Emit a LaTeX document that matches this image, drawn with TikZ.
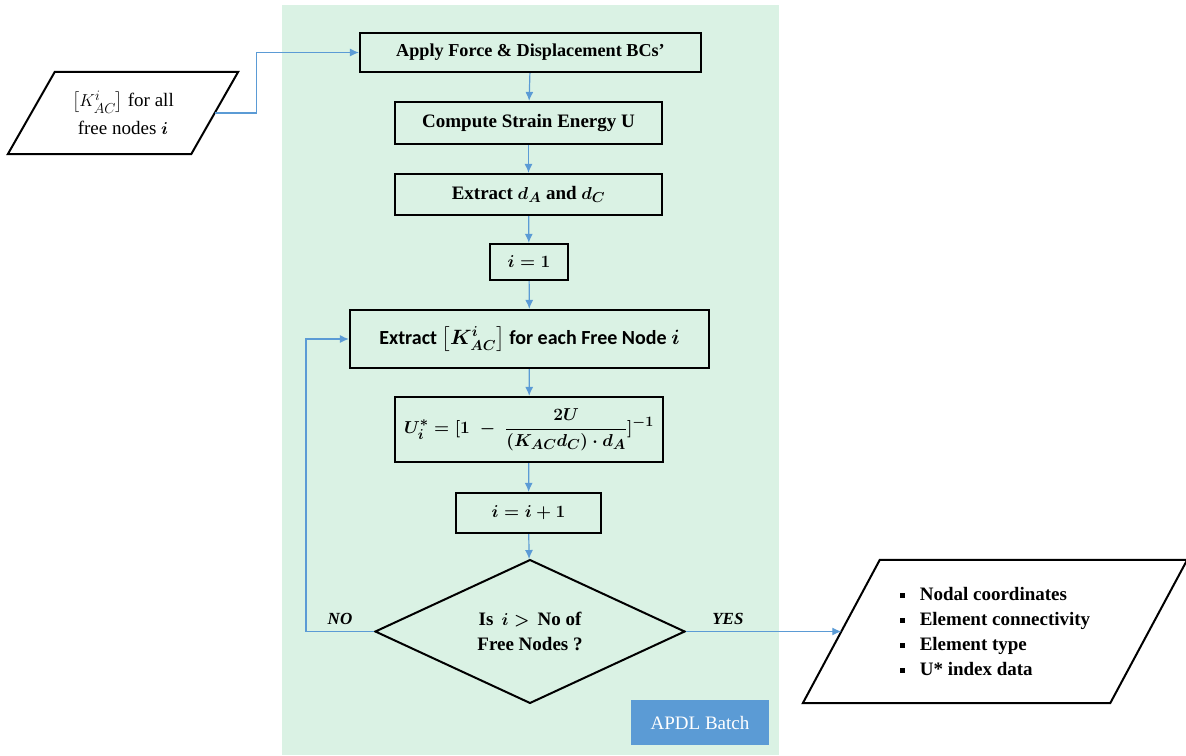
\documentclass[tikz,border=0pt]{standalone}
\usepackage{amsmath}
\usepackage{fontspec}
\setmainfont{Liberation Serif}
\newfontfamily\calfont{Carlito}
\usetikzlibrary{shapes.geometric,arrows.meta}

\definecolor{batchgreen}{HTML}{DAF2E4}
\definecolor{flowblue}{HTML}{5B9BD5}
\newcommand{\sqbullet}{\rule[3pt]{5pt}{5pt}\hspace{15pt}}
% parallelogram round a node: top edge moved right, bottom edge moved left
\newcommand{\slantframe}[2]{%
  \draw[line width=2pt,line join=miter] ([xshift=#2]#1.north west) -- ([xshift=#2]#1.north east)
    -- ([xshift=-#2]#1.south east) -- ([xshift=-#2]#1.south west) -- cycle;}

\begin{document}
\begin{tikzpicture}[x=1pt,y=-1pt,
    box/.style={draw,line width=2.2pt,inner sep=0pt,align=center,
        font=\fontsize{19}{23}\selectfont\bfseries\boldmath},
    decision/.style={diamond,draw,line width=2pt,inner sep=0pt,align=center,
        font=\fontsize{19}{25}\selectfont\bfseries\boldmath},
    flow/.style={draw=flowblue,line width=1.2pt,-{Latex[length=9pt,width=8pt]}},
    answer/.style={font=\fontsize{17}{20}\selectfont\bfseries\itshape}]
    \useasboundingbox (0,0) rectangle (1186,755);
    % batch area
    \fill[batchgreen] (282,5) rectangle (779,755);

    % main steps
    \node[box,minimum width=341,minimum height=39,
          font=\fontsize{18.2}{22}\selectfont\bfseries] (bcs) at (530.5,52.5)
        {Apply Force \& Displacement BCs’};
    \node[box,minimum width=267,minimum height=42] (energy) at (528.5,123)
        {Compute Strain Energy U};
    \node[box,minimum width=267,minimum height=41] (disp) at (528.5,194.5)
        {Extract $d_A$ and $d_C$};
    \node[box,minimum width=78,minimum height=36] (init) at (529,262) {$i=1$};
    \node[box,minimum width=359,minimum height=58,
          font=\fontsize{20}{24}\selectfont\calfont\bfseries\boldmath] (stiff) at (529.5,339)
        {Extract $\left[K^i_{AC}\right]$ for each Free Node $i$};
    \node[box,minimum width=268,minimum height=65] (ustar) at (529,429.5)
        {$U^*_i=[\mathbf{1}\;-\;\dfrac{2U}{(K_{AC}d_C)\cdot d_A}]^{-1}$};
    \node[box,minimum width=145,minimum height=40] (incr) at (528.5,513) {$i=i+1$};
    \node[decision,minimum width=310,minimum height=137] (check) at (530,631.5)
        {Is $\,i>\,$ No of\\Free Nodes ?};

    \node[fill=flowblue,text=white,minimum width=138,minimum height=45,
          font=\fontsize{19}{22}\selectfont] (apdl) at (700,722.5) {APDL Batch};

    % input / output
    \node[minimum width=183,minimum height=82,inner sep=0pt,align=center,
          font=\fontsize{19}{28}\selectfont] (input) at (123,113)
        {$\left[K^i_{AC}\right]$ for all\\free nodes $\boldsymbol{i}$};
    \slantframe{input}{23.5}
    \node[minimum width=307,minimum height=143,inner sep=0pt,align=left,
          font=\fontsize{19}{25}\selectfont\bfseries] (output) at (995,631.5)
        {\sqbullet Nodal coordinates\\
         \sqbullet Element connectivity\\
         \sqbullet Element type\\
         \sqbullet U* index data};
    \slantframe{output}{38.5}

    % connectors
    \draw[flow] (input.east) -- ++(42,0) |- (bcs.west);
    \draw[flow] (bcs) -- (energy);
    \draw[flow] (energy) -- (disp);
    \draw[flow] (disp) -- (init);
    \draw[flow] (init) -- (stiff);
    \draw[flow] (stiff) -- (ustar);
    \draw[flow] (ustar) -- (incr);
    \draw[flow] (incr) -- (check);
    \draw[flow] (check.west) -- ++(-68,0) node[answer,midway,above=3pt] (no) {NO}
        |- (stiff.west);
    \draw[flow] (check.east) -- (output.west) node[answer,pos=0.27,above=3pt] (yes) {YES};
\end{tikzpicture}
\end{document}
